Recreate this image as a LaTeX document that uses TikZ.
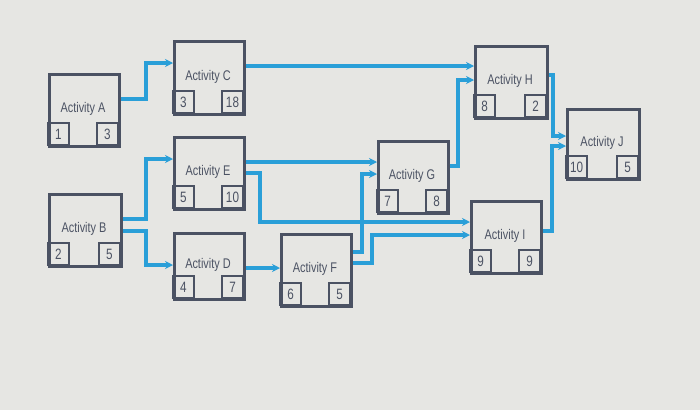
\documentclass[tikz,border=0pt]{standalone}
\usepackage{fontspec}
\setmainfont{Liberation Sans}
\usetikzlibrary{arrows.meta,calc}
\definecolor{bg}{HTML}{E6E6E3}
\definecolor{ln}{HTML}{2A9FD8}
\definecolor{bx}{HTML}{4B5263}
\tikzset{
  actbox/.style={draw=bx,line width=2.6pt,fill=bg,rectangle,anchor=north west,inner sep=0pt},
  sq/.style={draw=bx,line width=2.4pt},
  conn/.style={draw=ln,line width=3.4pt,-{Stealth[length=8pt,width=8pt]}},
  lab/.style={text=bx,xscale=0.78,inner sep=0pt},
}
\newcommand{\actnode}[8]{%
  \node[actbox,minimum width=#4pt,minimum height=#5pt] (#1) at (#2,#3) {};
  \node[lab,font=\fontsize{14}{15}\selectfont] (#1l) at ($(#2,#3)+(#4/2,#5*0.5)$) {Activity #6};
  \draw[sq] (#2,#3+#5-22) rectangle (#2+21,#3+#5);
  \draw[sq] (#2+#4-21,#3+#5-22) rectangle (#2+#4,#3+#5);
  \node[lab,font=\fontsize{15}{15}\selectfont] (#1a) at (#2+10.5,#3+#5-11) {#7};
  \node[lab,font=\fontsize{15}{15}\selectfont] (#1b) at (#2+#4-10.5,#3+#5-11) {#8};
}
\begin{document}
\begin{tikzpicture}[x=1pt,y=-1pt]
\fill[bg] (0,0) rectangle (700,410);
\useasboundingbox (0,0) rectangle (700,410);
\actnode{A}{48}{73}{70}{72}{A}{1}{3}
\actnode{C}{173}{40}{70}{73}{C}{3}{18}
\actnode{E}{173}{136}{70}{72}{E}{5}{10}
\actnode{B}{48}{193}{72}{72}{B}{2}{5}
\actnode{D}{173}{232}{70}{66}{D}{4}{7}
\actnode{F}{280}{233}{70}{72}{F}{6}{5}
\actnode{G}{377}{140}{70}{72}{G}{7}{8}
\actnode{H}{474}{45}{72}{72}{H}{8}{2}
\actnode{I}{470}{200}{70}{72}{I}{9}{9}
\actnode{J}{566}{108}{72}{70}{J}{10}{5}
\draw[conn] (A.east|-0,99) -- (146,99) -- (146,63) -- (C.west|-0,63);
\draw[conn] (C.east|-0,66) -- (H.west|-0,66);
\draw[conn] (B.east|-0,219) -- (146,219) -- (146,159) -- (E.west|-0,159);
\draw[conn] (B.east|-0,231) -- (146,231) -- (146,265) -- (D.west|-0,265);
\draw[conn] (D.east|-0,268) -- (F.west|-0,268);
\draw[conn] (E.east|-0,162) -- (G.west|-0,162);
\draw[conn] (E.east|-0,173) -- (260,173) -- (260,222) -- (I.west|-0,222);
\draw[conn] (F.east|-0,252) -- (362,252) -- (362,174) -- (G.west|-0,174);
\draw[conn] (F.east|-0,263) -- (372,263) -- (372,235) -- (I.west|-0,235);
\draw[conn] (G.east|-0,166) -- (458,166) -- (458,80) -- (H.west|-0,80);
\draw[conn] (H.east|-0,75) -- (553,75) -- (553,136) -- (J.west|-0,136);
\draw[conn] (I.east|-0,231) -- (552,231) -- (552,146) -- (J.west|-0,146);
\end{tikzpicture}
\end{document}
